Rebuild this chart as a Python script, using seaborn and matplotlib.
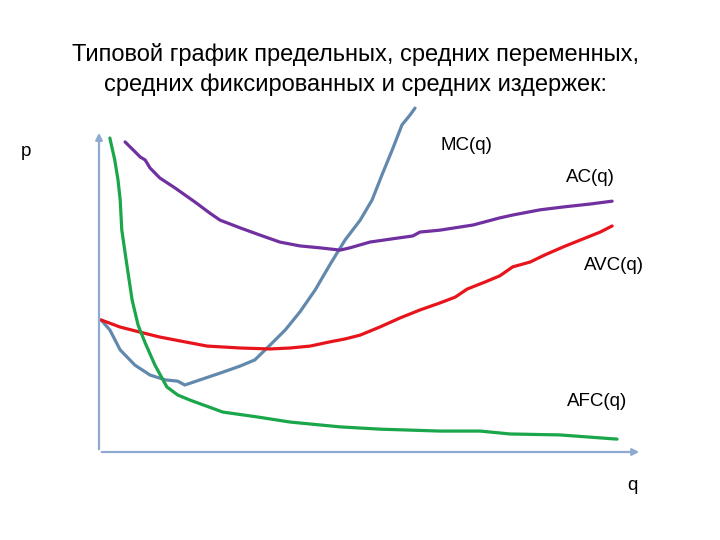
import numpy as np
import seaborn as sns
import matplotlib.pyplot as plt

sns.set_style("white")
plt.rcParams['font.family'] = ['Liberation Sans', 'DejaVu Sans']
plt.rcParams['text.color'] = 'black'

# кривые издержек (q - объём, p - издержки)
mc_q = [0.4, 2.0, 3.9, 6.6, 9.4, 12.2, 14.5, 15.8, 18.6, 22.3, 26.0, 28.7, 31.5, 34.3,
        37.0, 39.8, 42.5, 45.3, 48.1, 50.3, 52.1, 54.0, 55.8, 57.3, 58.2]
mc_p = [41.0, 37.9, 31.7, 27.0, 23.9, 22.4, 22.0, 20.8, 22.4, 24.5, 26.7, 28.6, 33.2, 37.9,
        43.5, 50.3, 58.1, 65.8, 72.0, 78.3, 86.0, 93.8, 101.6, 104.7, 106.8]

ac_q = [4.8, 6.3, 7.6, 8.5, 9.4, 11.2, 14.0, 17.7, 20.4, 22.3, 26.0, 29.6, 33.3, 37.0, 40.7,
        44.4, 46.2, 49.9, 53.6, 57.8, 59.1, 62.8, 68.9, 73.8, 76.2, 81.2, 85.5, 90.4, 94.5]
ac_p = [96.3, 93.8, 91.6, 90.7, 88.2, 85.1, 82.0, 77.6, 74.2, 72.0, 69.6, 67.4, 65.2, 64.0, 63.4,
        62.7, 63.4, 65.2, 66.1, 67.1, 68.3, 68.9, 70.5, 72.7, 73.6, 75.2, 76.1, 77.0, 77.9]

avc_q = [0.4, 3.9, 8.1, 11.2, 14.9, 19.9, 26.0, 31.5, 35.2, 38.9, 42.5, 45.3, 48.1, 51.7,
         55.4, 59.1, 62.8, 65.6, 67.8, 71.1, 73.8, 76.2, 79.4, 82.1, 85.5, 88.6, 92.3, 94.5]
avc_p = [41.0, 38.8, 37.0, 35.7, 34.5, 32.9, 32.3, 32.0, 32.3, 32.9, 34.2, 35.1, 36.3, 38.8,
         41.6, 44.1, 46.3, 48.1, 50.6, 52.8, 54.7, 57.5, 59.0, 61.2, 63.7, 65.8, 68.3, 70.2]

afc_q = [2.0, 2.9, 3.5, 3.9, 4.2, 5.0, 6.1, 7.2, 8.5, 10.3, 12.5, 14.5, 16.8, 22.8, 29.1,
         35.2, 44.4, 51.7, 62.8, 70.2, 75.7, 84.9, 95.4]
afc_p = [97.5, 90.7, 84.5, 78.3, 68.9, 59.6, 47.2, 39.4, 33.9, 27.0, 20.2, 17.7, 16.1, 12.4, 10.9,
         9.3, 7.8, 7.1, 6.5, 6.5, 5.6, 5.3, 4.0]

fig = plt.figure(figsize=(7.2, 5.4), dpi=100)
ax = fig.add_axes([99/720, 88/540, 543/720, 322/540])

curves = [
    (mc_q, mc_p, '#6289ad'),
    (ac_q, ac_p, '#7030a0'),
    (avc_q, avc_p, '#e8141c'),
    (afc_q, afc_p, '#1aa64a'),
]
for q, p, col in curves:
    sns.lineplot(x=q, y=p, sort=False, color=col, linewidth=2.3, ax=ax, clip_on=False)

ax.set_xlim(0, 100)
ax.set_ylim(0, 100)
ax.set_xticks([])
ax.set_yticks([])
sns.despine(ax=ax, left=True, bottom=True)

axis_col = '#8eaad0'
ax.annotate('', xy=(0, 1), xytext=(0, 0), xycoords='axes fraction',
            arrowprops=dict(arrowstyle='-|>', color=axis_col, lw=1.6, mutation_scale=10))
ax.annotate('', xy=(1, 0), xytext=(0, 0), xycoords='axes fraction',
            arrowprops=dict(arrowstyle='-|>', color=axis_col, lw=1.6, mutation_scale=10))

fig.text(356/720, 1 - 54/540, 'Типовой график предельных, средних переменных,',
         ha='center', va='center', fontsize=17)
fig.text(356/720, 1 - 85/540, 'средних фиксированных и средних издержек:',
         ha='center', va='center', fontsize=17)

labels = [
    ('p', 26, 152),
    ('MC(q)', 466, 145),
    ('AC(q)', 590, 178),
    ('AVC(q)', 614, 265),
    ('AFC(q)', 597, 402),
    ('q', 632, 485),
]
for txt, x, y in labels:
    fig.text(x/720, 1 - y/540, txt, ha='center', va='center', fontsize=13.5)

fig.savefig('out.png', dpi=100)
